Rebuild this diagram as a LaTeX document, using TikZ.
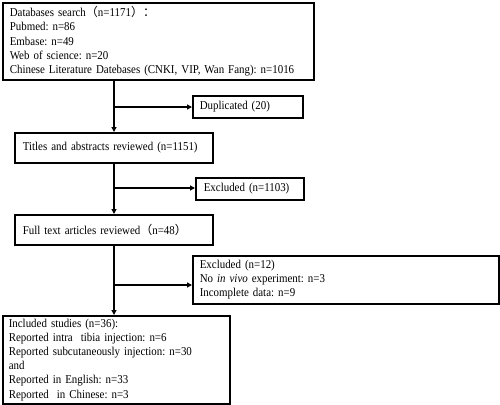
\documentclass[tikz,border=0pt]{standalone}
\usepackage{fontspec}
\setmainfont[FakeStretch=0.91]{Liberation Serif}
\newfontfamily\cjk{Noto Sans CJK SC}
\usetikzlibrary{arrows.meta}
\newcommand{\lp}{{\cjk （}}
\newcommand{\rp}{{\cjk ）}}
\newcommand{\fc}{{\cjk ：}}
\newcommand{\ml}[1]{\mbox{#1}}
\frenchspacing
\begin{document}
\begin{tikzpicture}[x=1bp,y=-1bp,
  box/.style={draw, line width=1.6bp, inner ysep=0pt, anchor=north west, align=left,
    font=\fontsize{12bp}{14.2bp}\selectfont\frenchspacing},
  arr/.style={line width=1.6bp, -{Triangle[length=5bp,width=5bp]}}]
\useasboundingbox (0,0) rectangle (500,404);
\node[box, inner xsep=7bp, text width=297bp, minimum height=77bp] (db) at (2,2)
 {\ml{Databases search\lp n=1171\rp\fc}\\
  \ml{Pubmed: n=86}\\
  \ml{Embase: n=49}\\
  \ml{Web of science: n=20}\\
  \ml{Chinese Literature Datebases (CNKI, VIP, Wan Fang): n=1016}};
\node[box, inner xsep=7bp, text width=96bp, minimum height=22bp] (dup) at (192,95) {\ml{Duplicated (20)}};
\node[box, inner xsep=8bp, text width=182bp, minimum height=30bp] (ta) at (14,132) {\ml{Titles and abstracts reviewed (n=1151)}};
\node[box, inner xsep=8bp, text width=92bp, minimum height=22bp] (ex1) at (195,177) {\ml{Excluded (n=1103)}};
\node[box, inner xsep=8bp, text width=182bp, minimum height=30bp] (ft) at (14,214) {\ml{Full text articles reviewed\lp n=48\rp}};
\node[box, inner xsep=7bp, text width=292bp, minimum height=48bp] (ex2) at (192,255)
 {\ml{Excluded (n=12)}\\
  \ml{No \textit{in vivo} experiment: n=3}\\
  \ml{Incomplete data: n=9}};
\node[box, inner xsep=6bp, text width=215bp, minimum height=88bp] (inc) at (2,315)
 {\ml{Included studies (n=36):}\\
  \ml{Reported intra\ \ tibia injection: n=6}\\
  \ml{Reported subcutaneously injection: n=30}\\
  \ml{and}\\
  \ml{Reported in English: n=33}\\
  \ml{Reported\ \ in Chinese: n=3}};
\coordinate (sp) at (114,0);
\coordinate (b1) at (114,107);
\coordinate (b2) at (114,188);
\coordinate (b3) at (114,285);
\draw[arr] (db.south -| sp) -- (ta.north -| sp);
\draw[arr] (b1) -- (b1 -| dup.west);
\draw[arr] (ta.south -| sp) -- (ft.north -| sp);
\draw[arr] (b2) -- (b2 -| ex1.west);
\draw[arr] (ft.south -| sp) -- (inc.north -| sp);
\draw[arr] (b3) -- (b3 -| ex2.west);
\end{tikzpicture}
\end{document}
